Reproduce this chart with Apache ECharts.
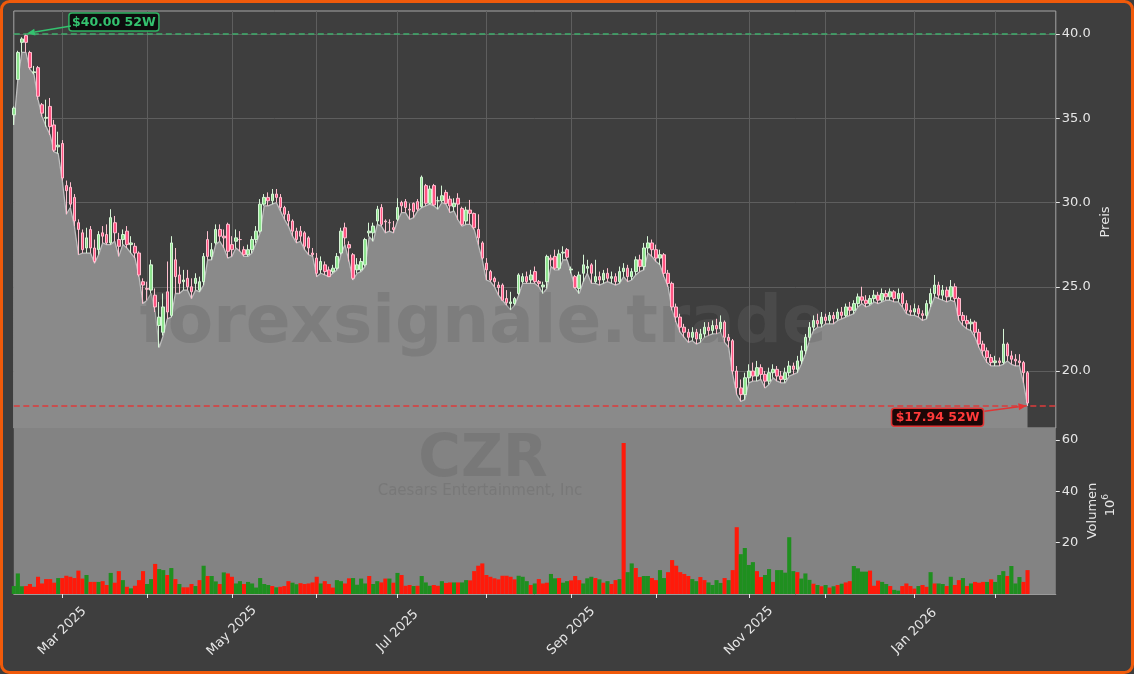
<!DOCTYPE html>
<html><head><meta charset="utf-8">
<script src="https://cdn.jsdelivr.net/npm/echarts@6/dist/echarts.min.js"></script>
<style>html,body{margin:0;padding:0;background:#ffffff}#c{width:1134px;height:674px}</style>
</head><body><div id="c"></div>
<script>
// ---------- data ----------
const startDate = '2025-02-12';
const holidays = ['2025-02-17','2025-04-18','2025-05-26','2025-06-19','2025-07-04','2025-09-01','2025-11-27','2025-12-25','2026-01-01','2026-01-19','2026-02-16'];
const monthNames = ['Jan','Feb','Mar','Apr','May','Jun','Jul','Aug','Sep','Oct','Nov','Dec'];
const priceTicks = [20, 25, 30, 35, 40];
const volumeTicks = [20, 40, 60];

const open = [35.2,37.3,39.5,39.9,38.9,37.7,38.0,35.8,35.0,35.7,34.6,33.3,33.5,31.0,30.9,30.3,28.8,28.2,27.3,28.4,
27.3,27.2,28.2,28.1,27.6,28.8,27.8,27.8,28.3,27.5,27.4,27.0,25.3,24.9,24.8,24.5,22.7,22.3,24.7,23.3,
26.6,25.7,25.3,25.5,25.0,25.2,24.8,25.3,27.8,26.8,27.6,28.4,28.0,28.7,27.5,27.7,27.8,27.2,26.9,27.2,
27.8,28.3,29.9,30.3,30.1,30.5,30.3,29.7,29.3,28.9,28.3,28.3,28.2,27.9,27.0,26.7,26.0,26.3,26.0,25.9,
26.1,27.0,28.5,27.5,26.9,26.0,26.0,26.3,28.2,28.2,28.9,29.7,28.9,28.8,28.5,29.0,30.0,30.05,29.6,29.95,
30.05,29.75,31.0,29.95,31.0,30.1,30.1,30.6,30.2,29.75,30.25,29.65,28.9,29.55,29.35,28.4,27.6,26.4,25.9,25.5,
25.1,25.1,24.3,24.0,24.0,24.6,25.3,25.6,25.4,25.9,25.3,25.0,25.3,26.7,26.8,26.1,27.0,27.2,26.0,25.6,
24.9,25.8,26.1,26.3,25.3,25.6,25.4,25.8,25.5,25.6,25.3,25.9,26.1,25.6,25.9,26.6,26.2,27.3,27.6,27.2,
26.7,26.9,25.8,25.2,23.8,23.2,22.6,22.3,22.0,22.3,21.9,22.2,22.6,22.4,22.7,22.5,22.9,22.0,21.8,20.0,
19.0,18.6,19.6,20.0,19.7,20.2,19.8,19.4,19.9,20.1,19.7,19.5,19.9,20.3,20.1,20.6,21.2,22.0,22.6,23.0,
22.8,23.2,23.0,23.3,23.1,23.5,23.3,23.8,23.6,24.0,24.4,24.2,24.0,24.3,24.5,24.2,24.6,24.4,24.7,24.3,
24.6,24.0,23.6,23.5,23.7,23.4,23.3,24.0,24.6,25.1,24.5,24.8,24.4,25.0,24.3,23.3,23.0,22.8,22.9,22.3,
21.6,21.2,20.8,20.5,20.6,20.5,21.6,20.9,20.7,20.6,20.5,19.9];
const high = [35.7,39.0,39.8,40.0,39.0,38.1,38.1,35.9,36.1,36.2,34.9,34.2,33.7,31.3,31.2,30.5,29.0,28.4,28.5,28.6,
27.8,28.3,28.6,28.7,29.6,29.2,28.2,28.4,28.6,28.0,27.6,27.1,25.5,25.3,26.6,24.9,24.1,24.6,26.5,28.0,
27.3,26.2,26.0,26.0,25.5,25.8,25.6,27.0,28.3,27.6,28.7,28.7,28.4,28.8,28.0,28.4,28.3,27.4,27.5,28.0,
28.6,30.2,30.5,30.6,30.8,30.8,30.5,29.8,29.5,29.0,28.5,28.6,28.3,28.0,27.3,27.0,26.8,26.5,26.2,26.3,
27.0,28.5,28.8,27.7,27.0,26.7,26.7,27.9,28.8,28.8,29.8,29.9,29.0,29.0,28.9,30.25,30.1,30.2,29.95,30.0,
30.2,31.6,31.1,31.0,31.1,30.35,31.0,30.75,30.4,30.25,30.55,29.75,29.75,30.15,29.4,29.3,27.7,26.7,26.0,25.6,
25.3,25.2,24.8,24.7,24.4,25.8,25.8,25.9,26.0,26.2,25.4,25.3,26.9,26.9,27.2,27.2,27.4,27.3,26.2,25.7,
25.9,26.9,26.6,26.4,26.6,25.9,26.0,26.1,25.9,25.8,26.2,26.4,26.3,26.1,26.8,26.9,27.6,28.0,27.8,27.5,
27.2,27.0,26.0,25.3,24.0,23.4,22.8,22.5,22.6,22.5,22.5,22.9,22.9,23.0,23.1,23.3,23.0,22.2,21.9,20.3,
19.5,19.9,20.4,20.5,20.6,20.4,20.0,20.2,20.4,20.3,20.0,20.2,20.6,20.5,20.9,21.5,22.2,22.9,23.3,23.4,
23.5,23.4,23.5,23.5,23.7,23.8,24.0,24.1,24.2,24.6,25.0,24.5,24.5,24.8,24.7,24.9,24.8,24.9,24.8,24.9,
24.7,24.2,23.9,24.0,23.9,23.6,24.2,24.9,25.7,25.3,25.1,25.0,25.4,25.2,24.4,23.5,23.3,23.1,23.0,22.5,
21.8,21.4,21.0,20.9,20.8,22.5,21.7,21.2,21.0,21.0,20.6,20.0];
const low = [34.6,37.3,38.9,38.9,37.9,37.6,36.1,35.1,34.5,34.0,33.0,32.9,31.3,29.3,29.7,28.6,26.9,27.0,27.0,27.0,
26.4,26.9,27.6,27.5,27.5,27.7,26.8,27.5,27.3,27.0,26.7,25.6,24.0,24.2,24.6,23.5,21.4,22.1,23.1,23.2,
24.6,24.6,24.8,24.8,24.3,24.8,24.7,25.1,26.6,26.6,27.5,27.7,27.3,26.7,26.8,27.3,27.1,26.8,26.8,27.0,
27.6,28.2,29.8,29.8,29.9,30.0,29.5,29.0,28.6,28.0,27.6,27.7,27.2,26.9,26.8,25.6,25.8,25.7,25.6,25.8,
26.0,26.9,27.5,26.5,25.4,25.8,25.9,26.2,27.97,27.7,28.7,28.6,28.2,28.3,28.2,28.9,29.4,29.4,29.0,29.1,
29.5,29.7,29.8,29.9,29.8,29.6,30.0,29.9,29.4,29.5,28.96,28.6,28.7,28.7,28.4,27.5,26.6,25.4,25.3,25.0,
24.5,24.2,23.9,23.63,23.9,24.5,25.2,25.2,25.2,25.2,25.0,24.6,24.9,26.2,26.0,26.0,26.6,26.6,25.8,24.9,
24.6,25.3,25.8,25.2,25.2,25.1,25.2,25.3,25.2,25.1,25.2,25.6,25.3,25.4,25.7,25.9,26.0,27.0,26.8,26.5,
26.3,25.6,25.0,23.6,22.9,22.3,22.0,21.7,21.8,21.6,21.7,22.0,22.1,22.2,22.2,22.3,21.7,21.4,19.8,18.6,
18.2,18.3,19.3,19.4,19.4,19.5,19.0,19.2,19.6,19.4,19.3,19.3,19.7,19.8,19.9,20.4,21.0,21.8,22.4,22.6,
22.6,22.8,22.8,22.8,23.0,23.1,23.2,23.3,23.4,23.8,24.0,23.8,23.9,24.1,24.0,24.1,24.2,24.2,24.1,24.1,
23.8,23.4,23.3,23.3,23.2,23.0,23.1,23.8,24.4,24.3,24.2,24.1,24.2,24.1,23.0,22.7,22.5,22.4,22.0,21.4,
20.9,20.5,20.3,20.3,20.3,20.4,20.6,20.4,20.3,20.3,19.3,17.94];
const close = [35.6,38.9,39.7,39.5,38.0,37.75,36.3,35.3,35.05,34.5,33.1,33.4,31.45,30.7,29.9,28.9,28.4,27.2,27.9,27.3,
26.5,28.1,28.0,27.6,29.1,28.2,27.4,28.1,27.5,27.6,27.0,25.7,25.1,24.85,26.3,23.8,23.2,23.8,23.5,27.6,
25.6,25.2,25.4,25.0,24.7,25.5,25.3,26.8,26.8,27.2,28.4,28.0,27.9,27.1,27.2,27.9,27.8,26.9,27.2,27.8,
28.3,29.9,30.3,30.1,30.5,30.3,29.7,29.3,28.9,28.3,27.8,28.0,27.4,27.3,26.9,25.8,26.5,25.9,25.6,26.1,
26.8,28.3,27.9,27.3,25.5,26.3,26.5,27.8,28.3,28.6,29.6,28.7,28.85,28.8,28.4,29.7,29.8,29.7,29.55,29.45,
29.6,31.5,29.95,30.8,29.85,30.1,30.4,29.95,29.8,29.95,29.9,28.7,29.55,29.35,28.5,27.9,26.7,26.0,25.4,25.3,
24.95,24.2,24.05,24.1,24.3,25.7,25.6,25.3,25.7,25.3,25.2,25.1,26.8,26.6,26.1,26.95,27.05,26.75,26.05,24.95,
25.7,26.3,26.2,25.8,25.6,25.4,25.8,25.5,25.6,25.3,25.9,26.1,25.6,25.9,26.6,26.2,27.3,27.6,27.2,26.7,
26.9,25.8,25.2,23.8,23.2,22.6,22.3,22.0,22.3,21.9,22.2,22.6,22.4,22.7,22.5,22.9,22.0,21.8,20.0,19.0,
18.6,19.6,20.0,19.7,20.2,19.8,19.4,19.9,20.1,19.7,19.5,19.9,20.3,20.1,20.6,21.2,22.0,22.6,23.0,22.8,
23.2,23.0,23.3,23.1,23.5,23.3,23.8,23.6,24.0,24.4,24.2,24.0,24.3,24.5,24.2,24.6,24.4,24.7,24.3,24.6,
24.0,23.6,23.5,23.7,23.4,23.3,24.0,24.6,25.1,24.5,24.8,24.4,25.0,24.3,23.3,23.0,22.8,22.9,22.3,21.6,
21.2,20.8,20.5,20.6,20.5,21.6,20.9,20.7,20.6,20.5,19.9,18.1];
const volume = [3.1,8.0,3.0,3.1,3.9,2.8,6.7,4.1,5.8,5.8,4.4,6.2,6.2,7.1,6.7,6.2,9.1,6.0,7.4,4.7,
4.7,4.7,5.0,3.5,8.2,4.4,8.9,5.4,2.8,2.2,3.2,5.4,8.9,3.9,5.8,11.7,9.7,9.3,7.4,10.1,
5.8,3.9,2.6,2.6,3.9,3.1,5.4,11.0,7.0,7.0,4.9,3.9,8.4,8.0,6.7,4.1,5.0,3.9,4.7,4.1,
2.5,6.2,3.9,3.5,3.1,2.6,2.8,3.1,5.0,4.4,3.8,4.2,3.9,4.1,4.5,6.7,4.1,5.0,3.9,2.5,
5.4,5.0,4.1,6.1,6.2,3.6,6.0,4.1,7.0,3.9,5.0,4.5,6.0,6.0,4.4,8.2,7.4,3.2,3.5,3.1,
3.2,7.0,4.5,3.2,3.5,3.2,5.0,4.3,4.5,4.5,4.5,4.5,5.4,5.3,8.9,11.0,11.9,7.4,6.7,6.1,
5.7,7.1,7.1,6.7,5.7,7.1,6.7,5.0,3.5,4.1,5.8,4.1,4.4,7.8,6.1,6.2,4.4,5.0,5.3,7.0,
5.4,4.1,6.1,6.7,6.2,5.7,4.4,5.0,3.9,5.4,5.8,58.8,8.5,11.9,10.1,6.6,7.0,7.0,6.2,5.4,
9.3,6.2,8.5,13.2,11.0,8.5,7.8,7.0,5.8,5.0,6.6,5.4,4.5,3.5,5.4,4.3,6.2,5.4,9.3,26.0,
15.5,17.9,11.3,12.4,8.9,6.6,7.4,9.7,4.7,9.3,9.3,8.3,22.1,8.9,8.5,6.0,8.0,5.5,4.0,3.5,
3.0,3.5,2.5,3.0,3.5,4.0,4.5,5.0,10.9,10.0,8.7,8.7,9.1,3.2,5.2,4.7,3.9,3.1,1.6,1.3,
3.1,4.1,3.1,2.1,3.1,3.5,2.8,8.5,4.1,4.1,3.9,3.1,6.7,3.5,5.4,6.2,3.1,4.1,4.7,4.4,
4.7,4.7,5.7,4.7,7.4,8.9,7.0,10.9,4.1,6.6,4.7,9.3];
const volumeDirection = 'GGGRRRRRRRRGRRRRRRGRRGRRGRRGRGRRRGGRGGRGRGRRRGRGRGGRGRRGGRGGGGGGRGRRRGGRRRRRGRRRGGRRGGGGRGGRRGRGRRRGRGGGRRGRRGRGGRRRRRRRRRRRRGGGRGRRRGGRGGRRRGGGRGRGRRGRGGRRGGRRGGRRRRRRGGRRGGGGRGRRGGGGRRGGRGGGGGRGGGRGRGRGRGRRGGGGRRRGGRGGRRRRGRRGRGGRGRRGRGRRRGRGGGRGGGRR';

// ---------- trading-day categories ----------
const N_CAT = 259;
const dates = [];
(function () {
  const d = new Date(startDate + 'T00:00:00Z');
  while (dates.length < N_CAT) {
    const wd = d.getUTCDay();
    const s = d.toISOString().slice(0, 10);
    if (wd !== 0 && wd !== 6 && holidays.indexOf(s) < 0) dates.push(s);
    d.setUTCDate(d.getUTCDate() + 1);
  }
})();
function isMonthStart(i) { return i > 0 && dates[i].slice(0, 7) !== dates[i - 1].slice(0, 7); }
function isLabelMonth(i) { return isMonthStart(i) && (parseInt(dates[i].slice(5, 7), 10) % 2 === 1); }

const candleData = open.map((o, i) => [o, close[i], low[i], high[i]]);
const volData = volume.map((v, i) => ({ value: v, itemStyle: { color: volumeDirection[i] === 'G' ? '#1f8f1f' : '#ff1a0a' } }));

let hiIdx = 0, loIdx = 0;
high.forEach((h, i) => { if (h > high[hiIdx]) hiIdx = i; });
low.forEach((l, i) => { if (l < low[loIdx]) loIdx = i; });
const hiVal = high[hiIdx], loVal = low[loIdx];

const txt = '#e6e6e6';
const font = 'DejaVu Sans';
const chart = echarts.init(document.getElementById('c'), null, { renderer: 'canvas' });

chart.setOption({
  animation: false,
  backgroundColor: '#3e3e3e',
  textStyle: { fontFamily: font },
  grid: [
    { left: 13.8, top: 11, width: 1042, height: 417, show: true, borderColor: '#a6a6a6', borderWidth: 1, backgroundColor: 'transparent' },
    { left: 13.8, top: 428, width: 1042, height: 166, show: true, borderWidth: 0, backgroundColor: '#838383' }
  ],
  xAxis: [
    { type: 'category', gridIndex: 0, data: dates, boundaryGap: false,
      axisLine: { show: false }, axisTick: { show: false }, axisLabel: { show: false },
      splitLine: { show: true, interval: (i) => isMonthStart(i), lineStyle: { color: '#5e5e5e', width: 1 } } },
    { type: 'category', gridIndex: 1, data: dates, boundaryGap: false,
      axisLine: { show: true, lineStyle: { color: '#9a9a9a' } },
      axisTick: { show: true, interval: (i) => isMonthStart(i), length: 4, lineStyle: { color: '#e6e6e6' } },
      axisLabel: { show: true, interval: (i) => isLabelMonth(i), rotate: 45, color: txt, fontSize: 13, fontFamily: font, margin: 37,
        align: 'center', verticalAlign: 'middle',
        formatter: (v) => monthNames[parseInt(v.slice(5, 7), 10) - 1] + ' ' + v.slice(0, 4) },
      splitLine: { show: false } }
  ],
  yAxis: [
    { type: 'value', gridIndex: 0, position: 'right', min: 16.62, max: 41.36, splitNumber: 5,
      axisLine: { show: false },
      axisTick: { show: true, length: 4, lineStyle: { color: '#e6e6e6' }, customValues: priceTicks },
      axisLabel: { color: txt, fontSize: 13, fontFamily: font, margin: 6, customValues: priceTicks, formatter: (v) => v.toFixed(1) },
      splitLine: { show: true, lineStyle: { color: '#5e5e5e', width: 1 } } },
    { type: 'value', gridIndex: 1, position: 'right', min: 0, max: 64.6,
      axisLine: { show: false },
      axisTick: { show: true, length: 4, lineStyle: { color: '#e6e6e6' }, customValues: volumeTicks },
      axisLabel: { color: txt, fontSize: 13, fontFamily: font, margin: 6, customValues: volumeTicks, formatter: (v) => String(v) },
      splitLine: { show: false } }
  ],
  series: [
    { type: 'line', xAxisIndex: 0, yAxisIndex: 0, data: low, symbol: 'none', z: 0,
      lineStyle: { color: '#bdbdbd', width: 1.3 }, areaStyle: { color: '#8a8a8a', opacity: 1 } },
    { type: 'candlestick', xAxisIndex: 0, yAxisIndex: 0, data: candleData, barWidth: 3, z: 3,
      itemStyle: { color: '#8fe38f', color0: '#ff5583', borderColor: '#d6f5d6', borderColor0: '#ffbfcf', borderWidth: 1 },
      markLine: { silent: true, symbol: ['none', 'none'], label: { show: false }, animation: false,
        data: [
          { yAxis: hiVal, lineStyle: { color: '#3fae6c', type: [6, 3.5], width: 1.5 } },
          { yAxis: loVal, lineStyle: { color: '#dd3b3b', type: [6, 3.5], width: 1.5 } }
        ] } },
    { type: 'bar', xAxisIndex: 1, yAxisIndex: 1, data: volData, barWidth: 4.1, z: 3 }
  ]
});

// ---------- graphics ----------
function arrow(x1, y1, x2, y2, color) {
  const a = Math.atan2(y2 - y1, x2 - x1), L = 8, W = 3.5;
  const bx = x2 - L * Math.cos(a), by = y2 - L * Math.sin(a);
  return [
    { type: 'line', z: 20, shape: { x1: x1, y1: y1, x2: bx, y2: by }, style: { stroke: color, lineWidth: 1.6 } },
    { type: 'polygon', z: 20, shape: { points: [[x2, y2], [bx - W * Math.sin(a), by + W * Math.cos(a)], [bx + W * Math.sin(a), by - W * Math.cos(a)]] }, style: { fill: color } }
  ];
}
const pHi = chart.convertToPixel({ gridIndex: 0 }, [hiIdx, hiVal]);
const pLo = chart.convertToPixel({ gridIndex: 0 }, [loIdx, loVal]);
const hiBox = { x: pHi[0] + 43, y: pHi[1] - 21, w: 90, h: 18 };
const loBox = { x: pLo[0] - 136, y: pLo[1] + 2.5, w: 92, h: 18 };

const g = [
  { type: 'rect', z: 30, silent: true, shape: { x: 1.5, y: 1.5, width: 1131, height: 671, r: 8 }, style: { fill: 'none', stroke: '#f05a0a', lineWidth: 3 } },
  { type: 'text', z: 1, silent: true, x: 483, y: 325, style: { text: 'forexsignale.trade', font: 'bold 66px "DejaVu Sans"', fill: 'rgba(100,100,100,0.33)', align: 'center', verticalAlign: 'middle' } },
  { type: 'text', z: 1, silent: true, x: 483, y: 461, style: { text: 'CZR', font: 'bold 58px "DejaVu Sans"', fill: 'rgba(100,100,100,0.35)', align: 'center', verticalAlign: 'middle' } },
  { type: 'text', z: 1, silent: true, x: 480, y: 491, style: { text: 'Caesars Entertainment, Inc', font: '15px "DejaVu Sans"', fill: 'rgba(100,100,100,0.35)', align: 'center', verticalAlign: 'middle' } },
  { type: 'text', z: 10, silent: true, x: 1106, y: 222, rotation: Math.PI / 2, style: { text: 'Preis', font: '13px "DejaVu Sans"', fill: txt, align: 'center', verticalAlign: 'middle' } },
  { type: 'text', z: 10, silent: true, x: 1093, y: 511, rotation: Math.PI / 2, style: { text: 'Volumen', font: '13px "DejaVu Sans"', fill: txt, align: 'center', verticalAlign: 'middle' } },
  { type: 'text', z: 10, silent: true, x: 1111, y: 508, rotation: Math.PI / 2, style: { text: '10', font: '13px "DejaVu Sans"', fill: txt, align: 'center', verticalAlign: 'middle' } },
  { type: 'text', z: 10, silent: true, x: 1106, y: 497, rotation: Math.PI / 2, style: { text: '6', font: '9px "DejaVu Sans"', fill: txt, align: 'center', verticalAlign: 'middle' } },
  { type: 'rect', z: 20, silent: true, shape: { x: hiBox.x, y: hiBox.y, width: hiBox.w, height: hiBox.h, r: 3 }, style: { fill: '#0d0d0d', stroke: '#2fb463', lineWidth: 1.5 } },
  { type: 'text', z: 21, silent: true, x: hiBox.x + hiBox.w / 2, y: hiBox.y + hiBox.h / 2 + 0.5, style: { text: '$' + hiVal.toFixed(2) + ' 52W', font: 'bold 12.5px "DejaVu Sans"', fill: '#34c26f', align: 'center', verticalAlign: 'middle' } },
  { type: 'rect', z: 20, silent: true, shape: { x: loBox.x, y: loBox.y, width: loBox.w, height: loBox.h, r: 3 }, style: { fill: '#1c0707', stroke: '#e23434', lineWidth: 1.5 } },
  { type: 'text', z: 21, silent: true, x: loBox.x + loBox.w / 2, y: loBox.y + loBox.h / 2 + 0.5, style: { text: '$' + loVal.toFixed(2) + ' 52W', font: 'bold 12.5px "DejaVu Sans"', fill: '#ff3a3a', align: 'center', verticalAlign: 'middle' } }
].concat(arrow(hiBox.x + 2, hiBox.y + 13, pHi[0] + 1, pHi[1] - 0.5, '#34c26f'))
 .concat(arrow(loBox.x + loBox.w + 1, loBox.y + 3, pLo[0] - 1, pLo[1], '#e23434'));

chart.setOption({ graphic: g });
</script>
</body></html>
